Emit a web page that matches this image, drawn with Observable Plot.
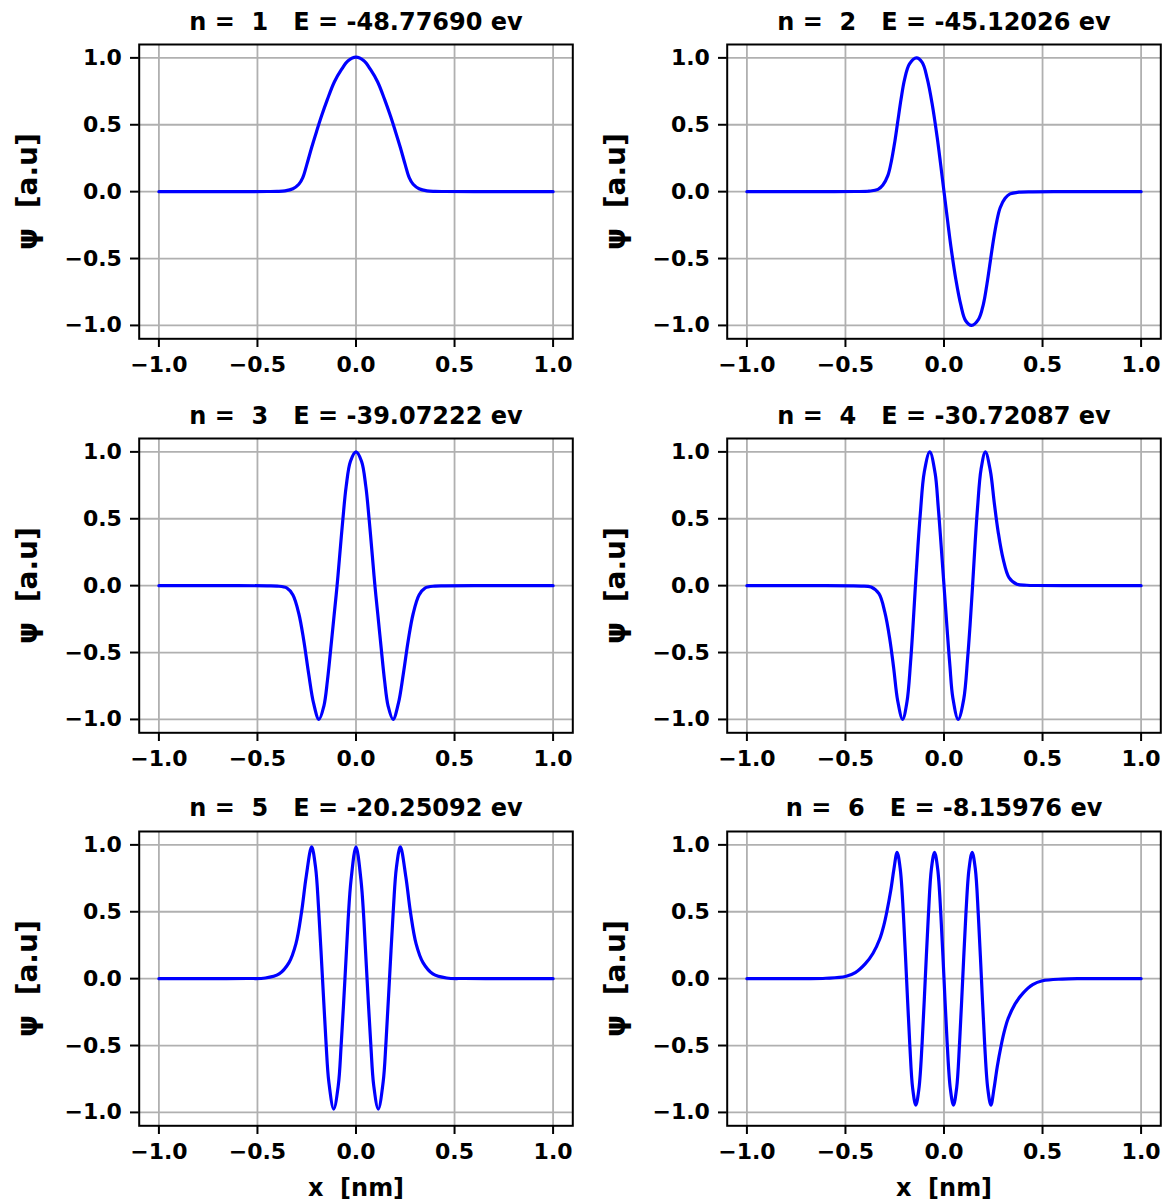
<!DOCTYPE html>
<html><head><meta charset="utf-8">
<script src="https://cdn.jsdelivr.net/npm/d3@7"></script>
<script src="https://cdn.jsdelivr.net/npm/@observablehq/plot@0.6"></script>
<style>
html,body{margin:0;padding:0;background:#fff;}
#fig{position:relative;width:1170px;height:1202px;overflow:hidden;background:#fff;}
#fig svg{position:absolute;}
</style></head><body><div id="fig"></div>
<script>
const levels = [1, 2, 3, 4, 5, 6];
const energies = [-48.77690, -45.12026, -39.07222, -30.72087, -20.25092, -8.15976];
const xTicks = [-1.0, -0.5, 0.0, 0.5, 1.0];
const yTicks = [-1.0, -0.5, 0.0, 0.5, 1.0];
const xLabel = "x  [nm]";
const yLabel = "ψ  [a.u]";

const psi1X = [-1.0, -0.6, -0.45, -0.4, -0.36, -0.32, -0.29, -0.27, -0.25, -0.225, -0.2, -0.175, -0.145, -0.11, -0.075, -0.04, 0.0, 0.04, 0.075, 0.11, 0.145, 0.175, 0.2, 0.225, 0.25, 0.27, 0.29, 0.32, 0.36, 0.4, 0.45, 0.6, 1.0];
const psi1Y = [0, 0, 0.001, 0.002, 0.006, 0.022, 0.055, 0.105, 0.2, 0.33, 0.45, 0.565, 0.69, 0.82, 0.91, 0.978, 1.005, 0.978, 0.91, 0.82, 0.69, 0.565, 0.45, 0.33, 0.2, 0.105, 0.055, 0.022, 0.006, 0.002, 0.001, 0, 0];

const psi2X = [-1.0, -0.6, -0.45, -0.38, -0.335, -0.31, -0.285, -0.268, -0.25, -0.235, -0.218, -0.2, -0.175, -0.14, -0.11, -0.085, -0.06, -0.035, -0.018, 0.0, 0.018, 0.035, 0.06, 0.085, 0.11, 0.14, 0.175, 0.2, 0.218, 0.235, 0.25, 0.268, 0.285, 0.31, 0.335, 0.38, 0.45, 0.6, 1.0];
const psi2Y = [0, 0, 0.001, 0.004, 0.017, 0.05, 0.12, 0.22, 0.37, 0.52, 0.69, 0.84, 0.955, 1.0, 0.965, 0.845, 0.655, 0.41, 0.215, 0, -0.215, -0.41, -0.655, -0.845, -0.965, -1.0, -0.955, -0.84, -0.69, -0.52, -0.37, -0.22, -0.12, -0.05, -0.017, -0.004, -0.001, 0, 0];

const psi3X = [-1.0, -0.6, -0.45, -0.4, -0.35, -0.32, -0.29, -0.265, -0.24, -0.215, -0.188, -0.163, -0.145, -0.128, -0.111, -0.096, -0.083, -0.067, -0.05, -0.028, 0.0, 0.028, 0.05, 0.067, 0.083, 0.096, 0.111, 0.128, 0.145, 0.163, 0.188, 0.215, 0.24, 0.265, 0.29, 0.32, 0.35, 0.4, 0.45, 0.6, 1.0];
const psi3Y = [0, 0, -0.001, -0.003, -0.018, -0.07, -0.21, -0.41, -0.66, -0.88, -1.0, -0.9, -0.71, -0.47, -0.22, 0, 0.22, 0.49, 0.74, 0.93, 1.0, 0.93, 0.74, 0.49, 0.22, 0, -0.22, -0.47, -0.71, -0.9, -1.0, -0.88, -0.66, -0.41, -0.21, -0.07, -0.018, -0.003, -0.001, 0, 0];

const psi4X = [-1.0, -0.6, -0.47, -0.42, -0.37, -0.33, -0.3, -0.275, -0.255, -0.235, -0.21, -0.188, -0.17, -0.158, -0.145, -0.132, -0.12, -0.1, -0.072, -0.045, -0.03, -0.018, 0.0, 0.018, 0.03, 0.045, 0.072, 0.1, 0.12, 0.132, 0.145, 0.158, 0.17, 0.188, 0.21, 0.235, 0.255, 0.275, 0.3, 0.33, 0.37, 0.42, 0.47, 0.6, 1.0];
const psi4Y = [0, 0, -0.001, -0.003, -0.01, -0.06, -0.2, -0.4, -0.62, -0.86, -1.0, -0.87, -0.58, -0.32, 0, 0.3, 0.54, 0.85, 1.0, 0.84, 0.6, 0.37, 0, -0.37, -0.6, -0.84, -1.0, -0.85, -0.54, -0.3, 0, 0.32, 0.58, 0.87, 1.0, 0.86, 0.62, 0.4, 0.2, 0.06, 0.01, 0.003, 0.001, 0, 0];

const psi5X = [-1.0, -0.7, -0.55, -0.46, -0.39, -0.34, -0.305, -0.276, -0.253, -0.225, -0.205, -0.19, -0.17, -0.152, -0.138, -0.113, -0.09, -0.075, -0.056, -0.04, -0.025, 0.0, 0.025, 0.04, 0.056, 0.075, 0.09, 0.113, 0.138, 0.152, 0.17, 0.19, 0.205, 0.225, 0.253, 0.276, 0.305, 0.34, 0.39, 0.46, 0.55, 0.7, 1.0];
const psi5Y = [0, 0, 0.001, 0.005, 0.036, 0.12, 0.26, 0.5, 0.76, 0.985, 0.83, 0.53, 0, -0.48, -0.77, -0.975, -0.8, -0.49, 0, 0.44, 0.74, 0.985, 0.74, 0.44, 0, -0.49, -0.8, -0.975, -0.77, -0.48, 0, 0.53, 0.83, 0.985, 0.76, 0.5, 0.26, 0.12, 0.036, 0.005, 0.001, 0, 0];

const psi6X = [-1.0, -0.7, -0.6, -0.5, -0.45, -0.4, -0.36, -0.325, -0.305, -0.29, -0.27, -0.254, -0.238, -0.222, -0.206, -0.19, -0.174, -0.159, -0.143, -0.127, -0.111, -0.095, -0.079, -0.064, -0.048, -0.032, -0.016, 0.0, 0.016, 0.032, 0.048, 0.064, 0.079, 0.095, 0.111, 0.127, 0.143, 0.159, 0.174, 0.19, 0.206, 0.222, 0.238, 0.254, 0.27, 0.29, 0.305, 0.325, 0.36, 0.4, 0.45, 0.5, 0.6, 0.7, 1.0];
const psi6Y = [0, 0, 0.003, 0.016, 0.045, 0.11, 0.19, 0.3, 0.4, 0.5, 0.66, 0.82, 0.945, 0.82, 0.48, 0, -0.48, -0.82, -0.945, -0.82, -0.48, 0, 0.48, 0.82, 0.945, 0.82, 0.48, 0, -0.48, -0.82, -0.945, -0.82, -0.48, 0, 0.48, 0.82, 0.945, 0.82, 0.48, 0, -0.48, -0.82, -0.945, -0.82, -0.66, -0.5, -0.4, -0.3, -0.19, -0.11, -0.045, -0.016, -0.003, 0, 0];

const psiX = [psi1X, psi2X, psi3X, psi4X, psi5X, psi6X];
const psiY = [psi1Y, psi2Y, psi3Y, psi4Y, psi5Y, psi6Y];

const fmt = d3.format(".1f");
const nb = s => s.replace(/ /g, "\u00a0");
const fig = document.getElementById("fig");

const W = 585, ML = 138.7, FW = 433.6, MR = W - ML - FW;
const MT = 44, FH = 294.3;
const colLeft = [0, 588];
const rowTop = [0, 393.7, 787.4];
const gridStyle = {stroke: "#b0b0b0", strokeOpacity: 1, strokeWidth: 1.8};

levels.forEach((n, i) => {
  const row = Math.floor(i / 2), col = i % 2;
  const bottom = row === 2;
  const H = bottom ? 1202 - rowTop[2] : 394;
  const MB = H - MT - FH;
  const data = psiX[i].map((x, j) => ({x, y: psiY[i][j]}));
  const title = "n = " + String(n).padStart(2, " ") + "   E = " + energies[i].toFixed(5) + " ev";
  const marks = [
    Plot.gridX(xTicks, gridStyle),
    Plot.gridY(yTicks, gridStyle),
    Plot.line(data, {x: "x", y: "y", stroke: "#0000ff", strokeWidth: 3.2, curve: "catmull-rom"}),
    Plot.frame({stroke: "black", strokeWidth: 2}),
    Plot.axisX(xTicks, {tickFormat: fmt, tickSize: 8.7, tickPadding: 8.6, strokeWidth: 2, label: null}),
    Plot.axisY(yTicks, {tickFormat: fmt, tickSize: 8.7, tickPadding: 8.6, strokeWidth: 2, label: null}),
    Plot.text([nb(title)], {text: d => d, frameAnchor: "top", dy: -15, lineAnchor: "bottom", fontSize: 24, fontWeight: "bold"}),
    Plot.text([nb(yLabel)], {text: d => d, frameAnchor: "left", textAnchor: "middle", dx: -111, rotate: -90, lineAnchor: "middle", fontSize: 28, fontWeight: "bold"})
  ];
  if (bottom) {
    marks.push(Plot.text([nb(xLabel)], {text: d => d, frameAnchor: "bottom", dy: 63, lineAnchor: "middle", fontSize: 24, fontWeight: "bold"}));
  }
  const svg = Plot.plot({
    width: W, height: H,
    marginLeft: ML, marginRight: MR, marginTop: MT, marginBottom: MB,
    x: {domain: [-1.1, 1.1]},
    y: {domain: [-1.1, 1.1]},
    style: {fontFamily: "DejaVu Sans", fontWeight: "bold", fontSize: "22px", color: "black", background: "transparent", overflow: "visible"},
    marks
  });
  svg.style.left = colLeft[col] + "px";
  svg.style.top = rowTop[row] + "px";
  fig.appendChild(svg);
});
</script>
</body></html>
